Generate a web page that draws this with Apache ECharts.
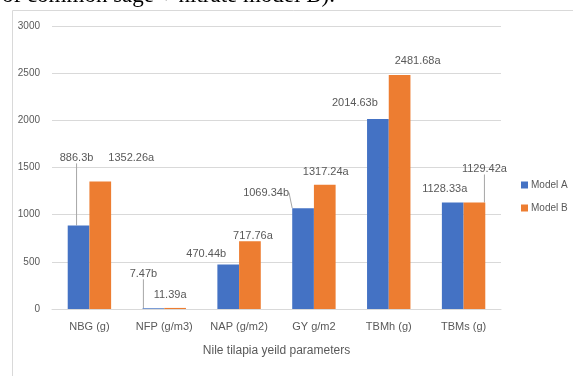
<!DOCTYPE html>
<html>
<head>
<meta charset="utf-8">
<script src="https://cdn.jsdelivr.net/npm/echarts@6/dist/echarts.min.js"></script>
<style>
  html, body { margin: 0; padding: 0; background: #fff; }
  #main { width: 573px; height: 376px; }
</style>
</head>
<body>
<div id="main"></div>
<script>
const categories = ['NBG (g)', 'NFP (g/m3)', 'NAP (g/m2)', 'GY g/m2', 'TBMh (g)', 'TBMs (g)'];
const modelA = [886.3, 7.47, 470.44, 1069.34, 2014.63, 1128.33];
const modelB = [1352.26, 11.39, 717.76, 1317.24, 2481.68, 1129.42];
const lettersA = ['b', 'b', 'b', 'b', 'b', 'a'];
const lettersB = ['a', 'a', 'a', 'a', 'a', 'a'];
const yTicks = [0, 500, 1000, 1500, 2000, 2500, 3000];

// label nudges (px) from the default 'top' spot, and which ones get a leader line
const nudgeA = [[-2, -57], [-10, -24], [-22, 0], [-37, -5], [-23, -5], [-8, -3]];
const nudgeB = [[31, -13], [-5, -2], [3, 5], [1, -2], [18, -3], [10, -23]];
const lineA = [true, true, false, true, false, false];
const lineB = [false, false, false, false, false, true];

const font = "'Liberation Sans', Arial, sans-serif";
const textColor = '#595959';

function items(values, lines) {
  return values.map((v, i) => ({
    value: v,
    labelLine: { show: lines[i] }
  }));
}

const chart = echarts.init(document.getElementById('main'));

chart.setOption({
  animation: false,
  graphic: [
    {
      type: 'text', left: 2, top: -16,
      style: { text: 'of common sage + nitrate model B).', font: "23px 'Liberation Serif', 'Times New Roman', serif", fill: '#000' }
    },
    {
      type: 'rect', left: 10, top: 8,
      shape: { width: 600, height: 400 },
      style: { fill: 'none', stroke: '#d9d9d9', lineWidth: 1 }
    }
  ],
  legend: {
    orient: 'vertical',
    left: 516,
    top: 175,
    itemWidth: 7,
    itemHeight: 7,
    itemGap: 13,
    icon: 'rect',
    textStyle: { fontFamily: font, fontSize: 10, color: textColor, padding: [0, 0, 0, -2] }
  },
  grid: { left: 52, right: 72, top: 26, bottom: 67 },
  xAxis: {
    type: 'category',
    data: categories,
    name: 'Nile tilapia yeild parameters',
    nameLocation: 'middle',
    nameGap: 36,
    nameTextStyle: { fontFamily: font, fontSize: 12, color: textColor },
    axisTick: { show: false },
    axisLine: { lineStyle: { color: '#d9d9d9' } },
    axisLabel: { fontFamily: font, fontSize: 11, color: textColor, margin: 12 }
  },
  yAxis: {
    type: 'value',
    min: yTicks[0],
    max: yTicks[yTicks.length - 1],
    interval: 500,
    axisLine: { show: false },
    axisTick: { show: false },
    splitLine: { lineStyle: { color: '#d9d9d9' } },
    axisLabel: { fontFamily: font, fontSize: 10, color: textColor, margin: 12, formatter: v => String(v) }
  },
  series: [
    {
      name: 'Model A',
      type: 'bar',
      data: items(modelA, lineA),
      itemStyle: { color: '#4472C4' },
      barGap: '0%',
      barCategoryGap: '42%',
      label: {
        show: true, position: 'top',
        fontFamily: font, fontSize: 11, color: textColor,
        formatter: p => p.value + lettersA[p.dataIndex]
      },
      labelLine: { show: false, lineStyle: { color: '#a6a6a6', width: 1 } },
      labelLayout: p => ({ dx: nudgeA[p.dataIndex][0], dy: nudgeA[p.dataIndex][1] })
    },
    {
      name: 'Model B',
      type: 'bar',
      data: items(modelB, lineB),
      itemStyle: { color: '#ED7D31' },
      label: {
        show: true, position: 'top',
        fontFamily: font, fontSize: 11, color: textColor,
        formatter: p => p.value + lettersB[p.dataIndex]
      },
      labelLine: { show: false, lineStyle: { color: '#a6a6a6', width: 1 } },
      labelLayout: p => ({ dx: nudgeB[p.dataIndex][0], dy: nudgeB[p.dataIndex][1] })
    }
  ]
});
</script>
</body>
</html>
